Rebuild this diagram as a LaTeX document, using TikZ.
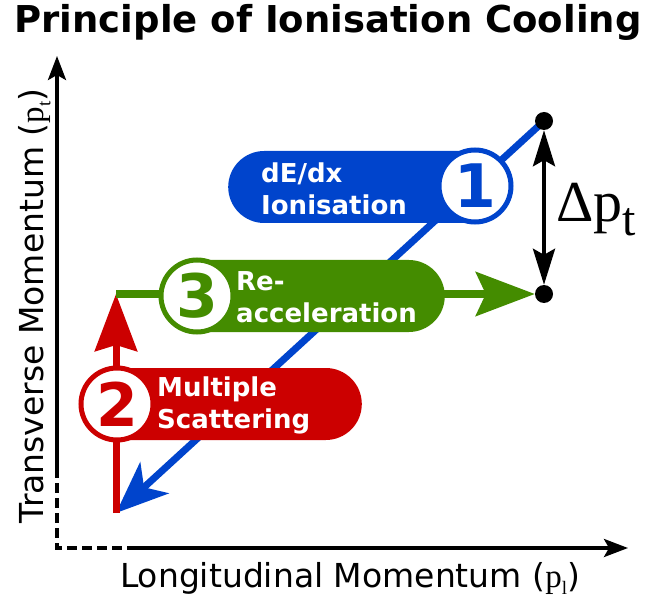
\documentclass[tikz,border=0pt]{standalone}
\usepackage{fontspec}
\setmainfont{DejaVu Sans}
\newfontfamily\lserif{Liberation Serif}
\usetikzlibrary{arrows.meta,shapes.misc}
\definecolor{IonBlue}{HTML}{0044CC}
\definecolor{ScatRed}{HTML}{CC0000}
\definecolor{AccGreen}{HTML}{448C00}
\pgfdeclarelayer{tracks}
\pgfsetlayers{tracks,main}
% p with a small serif subscript
\newcommand{\psub}[1]{{\lserif p\raisebox{-0.22em}{\fontsize{19}{19}\selectfont#1}}}

\begin{document}
\begin{tikzpicture}[x=1pt,y=-1pt,
axis/.style={line width=3.5pt},
track/.style={line width=7pt},
pill/.style={rounded rectangle,minimum height=72pt,inner sep=0pt},
badge/.style={circle,fill=white,line width=5pt,minimum size=72pt,inner sep=0pt,font=\bfseries\fontsize{60}{60}\selectfont},
pilltext/.style={anchor=west,align=left,text=white,inner sep=0pt,font=\bfseries\fontsize{26}{32}\selectfont},
dot/.style={circle,fill=black,minimum size=18pt,inner sep=0pt}]
\useasboundingbox (0,0) rectangle (647,601);

\node[font=\bfseries\fontsize{37}{37}\selectfont,anchor=base] (title) at (328,33) {Principle of Ionisation Cooling};

% axes, dashed near the origin
\coordinate (O) at (57,548);
\coordinate (ybreak) at (57,468);
\coordinate (ytop) at (57,56);
\coordinate (xbreak) at (135,548);
\coordinate (xend) at (628,548);
\draw[axis,dash pattern=on 10pt off 5pt] (ybreak) -- (O) -- (xbreak);
\draw[axis,-{Stealth[length=24pt,width=18pt,inset=5pt]}] (ybreak) -- (ytop);
\draw[axis,-{Stealth[length=24pt,width=18pt,inset=5pt]}] (xbreak) -- (xend);
\node[font=\fontsize{33}{33}\selectfont,rotate=90,anchor=base] (ylab) at (43,306) {Transverse Momentum (\psub{t})};
\node[font=\fontsize{33}{33}\selectfont,anchor=base] (xlab) at (350,587) {Longitudinal Momentum (\psub{l})};

% momentum states
\node[dot] (hi) at (544,121) {};
\node[dot] (lo) at (544,294) {};
\coordinate (turn) at (116,513);
\coordinate (kick) at (116,294);

\begin{pgfonlayer}{tracks}
\draw[track,IonBlue,-{Stealth[length=52pt,width=42pt,inset=14pt]}] (hi.center) -- (turn);
\draw[track,ScatRed,-{Stealth[length=57pt,width=42pt,inset=6pt]}] (turn) -- (kick);
\draw[track,AccGreen,-{Stealth[length=59pt,width=44pt,inset=10pt]}] (kick) -- (lo.west);
\end{pgfonlayer}

\draw[line width=4pt,{Stealth[length=36pt,width=22pt,inset=6pt]}-{Stealth[length=36pt,width=22pt,inset=6pt]}] (hi) -- (lo);
\node[anchor=base west,inner sep=0pt] (dpt) at (556,222) {\lserif\fontsize{58}{58}\selectfont Δp\raisebox{-14pt}{\fontsize{48}{48}\selectfont t}};

% step labels
\node[pill,fill=IonBlue,minimum width=283pt,anchor=west] (ionpill) at (228,187) {};
\node[pilltext] (iontxt) at (261,189) {dE/dx\\Ionisation};
\node[badge,draw=IonBlue,text=IonBlue] (b1) at (475,186) {1};

\node[pill,fill=ScatRed,minimum width=281pt,anchor=east] (scatpill) at (362,404) {};
\node[pilltext] (scattxt) at (157,405) {Multiple\\Scattering};
\node[badge,draw=ScatRed,text=ScatRed] (b2) at (117,404) {2};

\node[pill,fill=AccGreen,minimum width=284pt,anchor=east] (accpill) at (445,296) {};
\node[pilltext] (acctxt) at (236,297) {Re-\\acceleration};
\node[badge,draw=AccGreen,text=AccGreen] (b3) at (197,296) {3};
\end{tikzpicture}
\end{document}
